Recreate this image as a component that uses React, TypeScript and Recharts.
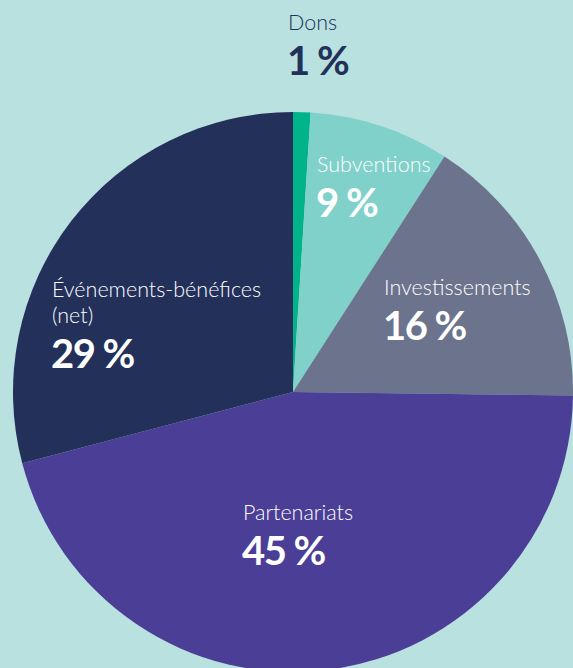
import { PieChart, Pie, Cell } from 'recharts'

// sources de revenus, dans le sens horaire depuis midi
const categories = ['Dons', 'Subventions', 'Investissements', 'Partenariats', 'Événements-bénéfices']
const subLines = ['', '', '', '', '(net)']
const shares = [1, 8.1, 16.1, 45.7, 29.1]
const shareLabels = ['1 %', '9 %', '16 %', '45 %', '29 %']

const colors = ['#00b38b', '#80d1ca', '#6b738d', '#4b3e96', '#22305a']
const textColors = ['#22305a', '#ffffff', '#ffffff', '#ffffff', '#ffffff']

// position du texte (gauche, ligne de base du nom) par tranche
const labelAt = [
  { x: 288, y: 30 },
  { x: 317, y: 172 },
  { x: 384, y: 295 },
  { x: 243, y: 520 },
  { x: 52, y: 297 },
]

const FONT = 'Lato, "Open Sans", "DejaVu Sans", sans-serif'

const data = categories.map((name, i) => ({ name, value: shares[i] }))

function SliceLabel({ index }: { index?: number }) {
  const i = index ?? 0
  const { x, y } = labelAt[i]
  const extra = subLines[i] ? 26 : 0
  return (
    <g fontFamily={FONT} fill={textColors[i]}>
      <text x={x} y={y} fontSize={21.5} fontWeight={300}>
        {categories[i]}
      </text>
      {subLines[i] && (
        <text x={x} y={y + 26} fontSize={21.5} fontWeight={300}>
          {subLines[i]}
        </text>
      )}
      <text x={x - 1} y={y + 45 + extra} fontSize={40} fontWeight={700} letterSpacing={-1.5}>
        {shareLabels[i]}
      </text>
    </g>
  )
}

export default function App() {
  return (
    <div style={{ position: 'fixed', top: 0, left: 0, width: 573, height: 668, background: '#b9e1e0', overflow: 'hidden' }}>
      <PieChart width={573} height={668} margin={{ top: 0, right: 0, bottom: 0, left: 0 }}>
        <Pie
          data={data}
          dataKey="value"
          cx={293}
          cy={392}
          outerRadius={280}
          startAngle={90}
          endAngle={-270}
          stroke="none"
          labelLine={false}
          label={(p: any) => <SliceLabel index={p.index} />}
          isAnimationActive={false}
        >
          {data.map((d, i) => (
            <Cell key={d.name} fill={colors[i]} />
          ))}
        </Pie>
      </PieChart>
    </div>
  )
}
